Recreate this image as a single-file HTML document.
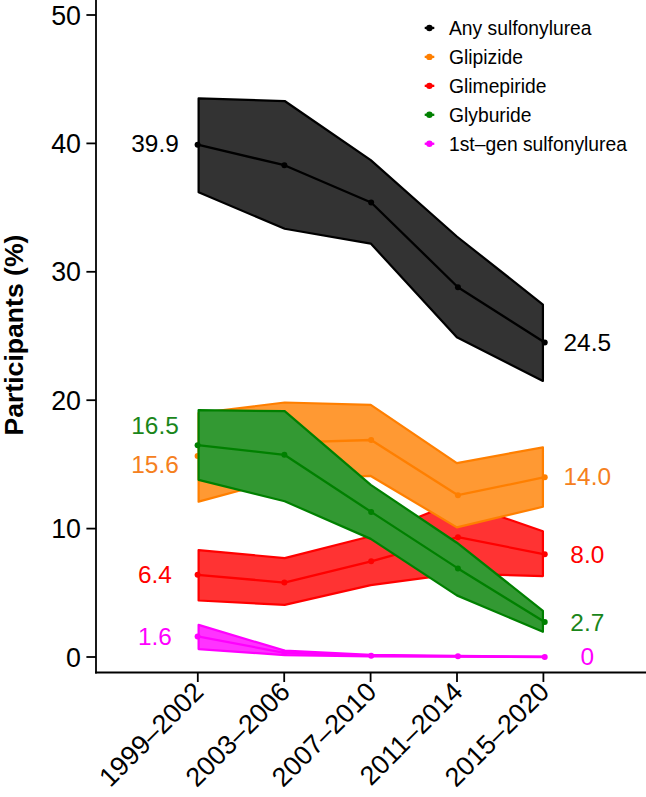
<!DOCTYPE html>
<html><head><meta charset="utf-8"><style>
html,body{margin:0;padding:0;background:#fff;}
svg{display:block;font-family:"Liberation Sans",sans-serif;}
</style></head><body>
<svg width="646" height="797" viewBox="0 0 646 797">
<polygon points="198.60,624.90 284.68,650.58 370.76,654.82 456.84,655.97 542.92,656.61 542.92,657.00 456.84,656.74 370.76,656.36 284.68,655.07 198.60,649.04" fill="#FF33FF" stroke="#FF00FF" stroke-width="2.2" stroke-linejoin="round"/>
<polyline points="197.60,636.46 284.38,652.76 371.16,655.72 457.94,656.36 544.72,657.00" fill="none" stroke="#FF00FF" stroke-width="2.3" stroke-linejoin="round"/>
<circle cx="197.60" cy="636.46" r="3" fill="#FF00FF"/>
<circle cx="284.38" cy="652.76" r="3" fill="#FF00FF"/>
<circle cx="371.16" cy="655.72" r="3" fill="#FF00FF"/>
<circle cx="457.94" cy="656.36" r="3" fill="#FF00FF"/>
<circle cx="544.72" cy="657.00" r="3" fill="#FF00FF"/>
<polygon points="198.60,98.46 284.68,101.03 370.76,160.09 456.84,236.49 542.92,304.54 542.92,380.94 456.84,337.28 370.76,243.55 284.68,228.79 198.60,192.19" fill="#333333" stroke="#000000" stroke-width="2.2" stroke-linejoin="round"/>
<polyline points="197.60,144.68 284.38,165.23 371.16,202.46 457.94,287.21 544.72,342.42" fill="none" stroke="#000000" stroke-width="2.3" stroke-linejoin="round"/>
<circle cx="197.60" cy="144.68" r="3" fill="#000000"/>
<circle cx="284.38" cy="165.23" r="3" fill="#000000"/>
<circle cx="371.16" cy="202.46" r="3" fill="#000000"/>
<circle cx="457.94" cy="287.21" r="3" fill="#000000"/>
<circle cx="544.72" cy="342.42" r="3" fill="#000000"/>
<polygon points="198.60,550.04 284.68,558.13 370.76,536.30 456.84,501.64 542.92,531.17 542.92,576.11 456.84,573.54 370.76,585.10 284.68,604.87 198.60,600.50" fill="#FF3333" stroke="#FF0000" stroke-width="2.2" stroke-linejoin="round"/>
<polyline points="197.60,574.82 284.38,582.53 371.16,561.34 457.94,537.20 544.72,554.28" fill="none" stroke="#FF0000" stroke-width="2.3" stroke-linejoin="round"/>
<circle cx="197.60" cy="574.82" r="3" fill="#FF0000"/>
<circle cx="284.38" cy="582.53" r="3" fill="#FF0000"/>
<circle cx="371.16" cy="561.34" r="3" fill="#FF0000"/>
<circle cx="457.94" cy="537.20" r="3" fill="#FF0000"/>
<circle cx="544.72" cy="554.28" r="3" fill="#FF0000"/>
<polygon points="198.60,413.04 284.68,402.51 370.76,404.95 456.84,463.12 542.92,447.32 542.92,506.77 456.84,527.32 370.76,475.96 284.68,478.52 198.60,501.64" fill="#FF9933" stroke="#FF7F00" stroke-width="2.2" stroke-linejoin="round"/>
<polyline points="197.60,456.05 284.38,442.57 371.16,440.00 457.94,495.22 544.72,477.24" fill="none" stroke="#FF7F00" stroke-width="2.3" stroke-linejoin="round"/>
<circle cx="197.60" cy="456.05" r="3" fill="#FF7F00"/>
<circle cx="284.38" cy="442.57" r="3" fill="#FF7F00"/>
<circle cx="371.16" cy="440.00" r="3" fill="#FF7F00"/>
<circle cx="457.94" cy="495.22" r="3" fill="#FF7F00"/>
<circle cx="544.72" cy="477.24" r="3" fill="#FF7F00"/>
<polygon points="198.60,410.22 284.68,411.11 370.76,484.94 456.84,542.72 542.92,610.78 542.92,631.83 456.84,595.37 370.76,538.87 284.68,501.25 198.60,479.81" fill="#339933" stroke="#008000" stroke-width="2.2" stroke-linejoin="round"/>
<polyline points="197.60,445.14 284.38,454.77 371.16,511.91 457.94,568.40 544.72,621.95" fill="none" stroke="#008000" stroke-width="2.3" stroke-linejoin="round"/>
<circle cx="197.60" cy="445.14" r="3" fill="#008000"/>
<circle cx="284.38" cy="454.77" r="3" fill="#008000"/>
<circle cx="371.16" cy="511.91" r="3" fill="#008000"/>
<circle cx="457.94" cy="568.40" r="3" fill="#008000"/>
<circle cx="544.72" cy="621.95" r="3" fill="#008000"/>
<text x="155" y="636.05" dy="0.355em" text-anchor="middle" font-size="24.4" fill="#FF00FF">1.6</text>
<text x="587.3" y="656.55" dy="0.355em" text-anchor="middle" font-size="24.4" fill="#FF00FF">0</text>
<text x="155" y="143.25" dy="0.355em" text-anchor="middle" font-size="24.4" fill="#000000">39.9</text>
<text x="587.3" y="342.10" dy="0.355em" text-anchor="middle" font-size="24.4" fill="#000000">24.5</text>
<text x="155" y="574.55" dy="0.355em" text-anchor="middle" font-size="24.4" fill="#FF0000">6.4</text>
<text x="587.3" y="554.30" dy="0.355em" text-anchor="middle" font-size="24.4" fill="#FF0000">8.0</text>
<text x="155" y="463.95" dy="0.355em" text-anchor="middle" font-size="24.4" fill="#F58020">15.6</text>
<text x="587.3" y="476.75" dy="0.355em" text-anchor="middle" font-size="24.4" fill="#F58020">14.0</text>
<text x="155" y="425.40" dy="0.355em" text-anchor="middle" font-size="24.4" fill="#1A861A">16.5</text>
<text x="587.3" y="622.10" dy="0.355em" text-anchor="middle" font-size="24.4" fill="#1A861A">2.7</text>
<line x1="96" y1="0" x2="96" y2="673.4" stroke="#000" stroke-width="1.8"/>
<line x1="95.1" y1="672.5" x2="646" y2="672.5" stroke="#000" stroke-width="1.8"/>
<line x1="86.4" y1="657.00" x2="96" y2="657.00" stroke="#000" stroke-width="1.8"/>
<text x="81" y="657.00" dy="0.355em" text-anchor="end" font-size="26.8" fill="#000">0</text>
<line x1="86.4" y1="528.60" x2="96" y2="528.60" stroke="#000" stroke-width="1.8"/>
<text x="81" y="528.60" dy="0.355em" text-anchor="end" font-size="26.8" fill="#000">10</text>
<line x1="86.4" y1="400.20" x2="96" y2="400.20" stroke="#000" stroke-width="1.8"/>
<text x="81" y="400.20" dy="0.355em" text-anchor="end" font-size="26.8" fill="#000">20</text>
<line x1="86.4" y1="271.80" x2="96" y2="271.80" stroke="#000" stroke-width="1.8"/>
<text x="81" y="271.80" dy="0.355em" text-anchor="end" font-size="26.8" fill="#000">30</text>
<line x1="86.4" y1="143.40" x2="96" y2="143.40" stroke="#000" stroke-width="1.8"/>
<text x="81" y="143.40" dy="0.355em" text-anchor="end" font-size="26.8" fill="#000">40</text>
<line x1="86.4" y1="15.00" x2="96" y2="15.00" stroke="#000" stroke-width="1.8"/>
<text x="81" y="15.00" dy="0.355em" text-anchor="end" font-size="26.8" fill="#000">50</text>
<line x1="197.80" y1="672.5" x2="197.80" y2="682" stroke="#000" stroke-width="1.8"/>
<text transform="translate(191.50,679.7) rotate(-45)" text-anchor="end" font-size="26.8" dy="0.72em" fill="#000">1999–2002</text>
<line x1="284.20" y1="672.5" x2="284.20" y2="682" stroke="#000" stroke-width="1.8"/>
<text transform="translate(277.90,679.7) rotate(-45)" text-anchor="end" font-size="26.8" dy="0.72em" fill="#000">2003–2006</text>
<line x1="370.60" y1="672.5" x2="370.60" y2="682" stroke="#000" stroke-width="1.8"/>
<text transform="translate(364.30,679.7) rotate(-45)" text-anchor="end" font-size="26.8" dy="0.72em" fill="#000">2007–2010</text>
<line x1="457.00" y1="672.5" x2="457.00" y2="682" stroke="#000" stroke-width="1.8"/>
<text transform="translate(450.70,679.7) rotate(-45)" text-anchor="end" font-size="26.8" dy="0.72em" fill="#000">2011–2014</text>
<line x1="543.40" y1="672.5" x2="543.40" y2="682" stroke="#000" stroke-width="1.8"/>
<text transform="translate(537.10,679.7) rotate(-45)" text-anchor="end" font-size="26.8" dy="0.72em" fill="#000">2015–2020</text>
<text transform="translate(22.8,435.5) rotate(-90)" font-size="26.6" font-weight="bold" fill="#000">Participants (%)</text>
<line x1="424.7" y1="27.95" x2="434.3" y2="27.95" stroke="#000000" stroke-width="2.3"/>
<circle cx="429.4" cy="27.95" r="3.2" fill="#000000"/>
<text x="449" y="34.85" font-size="19.3" fill="#000">Any sulfonylurea</text>
<line x1="424.7" y1="56.90" x2="434.3" y2="56.90" stroke="#FF7F00" stroke-width="2.3"/>
<circle cx="429.4" cy="56.90" r="3.2" fill="#FF7F00"/>
<text x="449" y="63.80" font-size="19.3" fill="#000">Glipizide</text>
<line x1="424.7" y1="85.85" x2="434.3" y2="85.85" stroke="#FF0000" stroke-width="2.3"/>
<circle cx="429.4" cy="85.85" r="3.2" fill="#FF0000"/>
<text x="449" y="92.75" font-size="19.3" fill="#000">Glimepiride</text>
<line x1="424.7" y1="114.80" x2="434.3" y2="114.80" stroke="#008000" stroke-width="2.3"/>
<circle cx="429.4" cy="114.80" r="3.2" fill="#008000"/>
<text x="449" y="121.70" font-size="19.3" fill="#000">Glyburide</text>
<line x1="424.7" y1="143.75" x2="434.3" y2="143.75" stroke="#FF00FF" stroke-width="2.3"/>
<circle cx="429.4" cy="143.75" r="3.2" fill="#FF00FF"/>
<text x="449" y="150.65" font-size="19.3" fill="#000">1st–gen sulfonylurea</text>
</svg>
</body></html>
